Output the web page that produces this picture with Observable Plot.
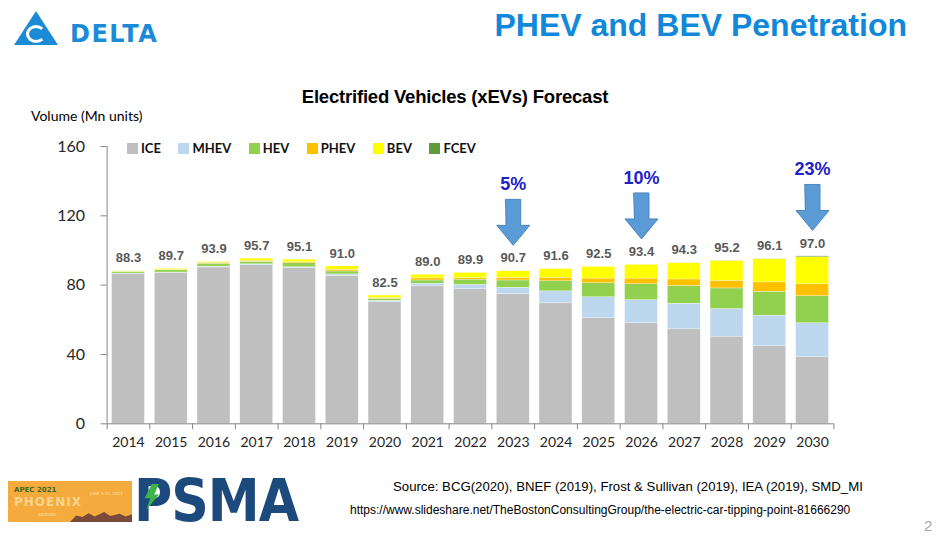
<!DOCTYPE html>
<html>
<head>
<meta charset="utf-8">
<script src="https://cdn.jsdelivr.net/npm/d3@7"></script>
<script src="https://cdn.jsdelivr.net/npm/@observablehq/plot@0.6"></script>
<style>
  html, body { margin: 0; padding: 0; background: #fff; }
  #page { position: relative; width: 950px; height: 536px; overflow: hidden; font-family: "Liberation Sans", Arial, sans-serif; }
  .abs { position: absolute; white-space: nowrap; }
  #chart { position: absolute; left: 0; top: 130px; }
  #legend { position: absolute; left: 127px; top: 140px; display: flex; gap: 17.5px; align-items: center; font-family: Lato, sans-serif; font-weight: bold; font-size: 13px; color: #111; }
  #legend .item { display: flex; align-items: center; }
  #legend .sw { width: 11px; height: 11px; margin-right: 3px; }
</style>
</head>
<body>
<div id="page">
  <!-- Delta logo -->
  <div class="abs" style="left:14px;top:11px;width:0;height:0;border-left:22px solid transparent;border-right:22px solid transparent;border-bottom:34px solid #1b8bd6;"></div>
  <div class="abs" style="left:26px;top:25px;width:14px;height:12px;border:3px solid #fff;border-right-color:transparent;border-radius:50%;"></div>
  <div class="abs" style="left:70px;top:20px;font-family:'DejaVu Sans';font-weight:bold;font-size:24px;color:#1b8bd6;letter-spacing:1.5px;">DELTA</div>

  <div class="abs" style="right:43px;top:7px;font-family:'Liberation Sans';font-weight:bold;font-size:32px;color:#1188d9;">PHEV and BEV Penetration</div>

  <div class="abs" style="left:0;width:910px;text-align:center;top:86px;font-family:'Liberation Sans';font-weight:bold;font-size:18.5px;color:#000;letter-spacing:-0.2px;">Electrified Vehicles (xEVs) Forecast</div>
  <div class="abs" style="left:31px;top:107px;font-family:Lato;font-size:14px;color:#000;">Volume (Mn units)</div>

  <div id="chart"></div>
  <div id="legend"></div>

  <!-- APEC logo -->
  <div class="abs" style="left:8px;top:481px;width:124px;height:41px;background:#f4aa3c;overflow:hidden;">
    <div class="abs" style="left:6px;top:5px;font-family:'DejaVu Sans';font-weight:bold;font-size:7px;color:#3d6b2a;">APEC 2021</div>
    <div class="abs" style="left:6px;top:14px;font-family:'DejaVu Sans';font-weight:bold;font-size:12px;color:#f9d48c;letter-spacing:1px;">PHOENIX</div>
    <div class="abs" style="left:30px;top:31px;font-family:'DejaVu Sans';font-size:4px;color:#fbe0a8;">ARIZONA</div>
    <div class="abs" style="left:82px;top:10px;font-family:'DejaVu Sans';font-size:4px;color:#fbe0a8;">JUNE 9-12, 2021</div>
    <div class="abs" style="left:62px;top:30px;width:62px;height:11px;background:#7a4a3a;clip-path:polygon(0 100%,10% 40%,20% 55%,30% 20%,40% 50%,55% 10%,65% 45%,80% 25%,90% 50%,100% 30%,100% 100%);"></div>
  </div>
  <!-- PSMA logo -->
  <div class="abs" style="left:134px;top:471px;font-family:'DejaVu Sans Condensed','DejaVu Sans';font-weight:bold;font-size:58px;line-height:60px;color:#1c4a7c;letter-spacing:-1px;">PSMA</div>
  <div class="abs" style="left:143px;top:484px;width:16px;height:26px;background:#3cb44b;clip-path:polygon(55% 0,100% 0,70% 40%,100% 40%,20% 100%,45% 55%,10% 55%);"></div>

  <div class="abs" style="left:393px;top:479px;font-family:'Liberation Sans';font-size:13.2px;color:#000;">Source: BCG(2020), BNEF (2019), Frost &amp; Sullivan (2019), IEA (2019), SMD_MI</div>
  <div class="abs" style="left:350px;top:503px;font-family:'Liberation Sans';font-size:12px;color:#000;">https://www.slideshare.net/TheBostonConsultingGroup/the-electric-car-tipping-point-81666290</div>
  <div class="abs" style="left:924px;top:517px;font-family:'Liberation Sans';font-size:15px;color:#a6a6a6;">2</div>
</div>
<script>
// ---- data ----
const years = [2014, 2015, 2016, 2017, 2018, 2019, 2020, 2021, 2022, 2023, 2024, 2025, 2026, 2027, 2028, 2029, 2030];
const seriesNames = ["ICE", "MHEV", "HEV", "PHEV", "BEV", "FCEV"];
const seriesColors = ["#bfbfbf", "#bdd7ee", "#92d050", "#ffc000", "#ffff00", "#5e9b3d"];
const ICE  = [86.6, 87.2, 90.2, 91.6, 89.9, 85.4, 70.1, 79.3, 77.6, 74.9, 69.5, 60.9, 58.0, 54.5, 50.3, 44.7, 38.4];
const MHEV = [0.1, 0.1, 0.5, 0.4, 0.4, 0.8, 0.8, 1.5, 2.5, 3.6, 6.9, 12.1, 13.3, 14.8, 15.9, 17.7, 19.6];
const HEV  = [1.0, 1.3, 1.7, 1.5, 2.3, 1.7, 1.2, 1.9, 3.1, 4.2, 5.8, 8.1, 9.2, 10.2, 11.9, 13.8, 15.6];
const PHEV = [0.1, 0.2, 0.5, 0.6, 0.6, 1.0, 0.6, 1.2, 0.8, 1.5, 2.1, 2.7, 3.3, 3.8, 4.4, 5.4, 6.9];
const BEV  = [0.2, 0.6, 0.5, 1.2, 1.5, 1.9, 1.3, 2.1, 3.1, 3.8, 5.0, 6.7, 7.9, 9.4, 11.5, 13.3, 15.6];
const FCEV = [0, 0, 0, 0, 0, 0, 0, 0, 0, 0, 0, 0, 0, 0.05, 0.1, 0.2, 0.5];
const totalLabels = ["88.3", "89.7", "93.9", "95.7", "95.1", "91.0", "82.5", "89.0", "89.9", "90.7", "91.6", "92.5", "93.4", "94.3", "95.2", "96.1", "97.0"];
const yTicks = [0, 40, 80, 120, 160];
const arrowYears = [2023, 2026, 2030];
const arrowLabels = ["5%", "10%", "23%"];

// ---- build tables ----
const seriesValues = [ICE, MHEV, HEV, PHEV, BEV, FCEV];
const barHalf = 0.385;
const rows = [];
const totals = [];
years.forEach((yr, i) => {
  let cum = 0;
  seriesNames.forEach((s, k) => {
    const v = seriesValues[k][i];
    if (v > 0) rows.push({year: yr, series: s, y1: cum, y2: cum + v});
    cum += v;
  });
  totals.push({year: yr, total: cum, label: totalLabels[i]});
});

const arrowPts = [];
const arrowText = [];
arrowYears.forEach((yr, j) => {
  const t = totals[years.indexOf(yr)].total;
  const tip = t + 15, head = tip + 11.5, top = head + 15;
  const hw = 0.386, sw = 0.175;
  [[yr - sw, top], [yr + sw, top], [yr + sw, head], [yr + hw, head], [yr, tip], [yr - hw, head], [yr - sw, head]]
    .forEach(([x, y]) => arrowPts.push({id: j, x, y}));
  arrowText.push({year: yr, y: top + 8.5, label: arrowLabels[j]});
});
const boundaries = [...years.map(y => y - 0.5), years[years.length - 1] + 0.5];

const chart = Plot.plot({
  width: 950,
  height: 330,
  marginTop: 16,
  marginBottom: 36.7,
  marginLeft: 106.6,
  marginRight: 116.6,
  style: {background: "transparent", fontFamily: "Lato, sans-serif", overflow: "visible", color: "#262626"},
  x: {domain: [years[0] - 0.5, years[years.length - 1] + 0.5]},
  y: {domain: [0, 160]},
  color: {domain: seriesNames, range: seriesColors},
  marks: [
    Plot.rect(rows, {x1: d => d.year - barHalf, x2: d => d.year + barHalf, y1: "y1", y2: "y2", fill: "series", stroke: "#ffffff", strokeWidth: 0.4, strokeOpacity: 0.8}),
    Plot.ruleX([years[0] - 0.5], {stroke: "#868686", strokeWidth: 1}),
    Plot.ruleY([0], {stroke: "#868686", strokeWidth: 1}),
    Plot.axisY({ticks: yTicks, tickSize: 6, tickPadding: 16, fontSize: 16, stroke: "#868686", fill: "#262626", label: null}),
    Plot.axisX({ticks: boundaries, tickSize: 6, tickFormat: () => "", stroke: "#868686", label: null}),
    Plot.axisX({ticks: years, tickSize: 0, tickPadding: 13, tickFormat: d => String(d), fontSize: 14, fill: "#262626", label: null}),
    Plot.text(totals, {x: "year", y: "total", text: "label", dy: -13, fill: "#595959", fontWeight: "bold", fontSize: 13, fontFamily: "Liberation Sans"}),
    Plot.line(arrowPts, {x: "x", y: "y", z: "id", curve: "linear-closed", fill: "#5b9bd5", stroke: "#4a87c0", strokeWidth: 1}),
    Plot.text(arrowText, {x: "year", y: "y", text: "label", fill: "#2222c8", fontWeight: "bold", fontSize: 18, fontFamily: "Liberation Sans"})
  ]
});
document.getElementById("chart").appendChild(chart);

const legend = document.getElementById("legend");
seriesNames.forEach((s, k) => {
  const item = document.createElement("div");
  item.className = "item";
  const sw = document.createElement("div");
  sw.className = "sw";
  sw.style.background = seriesColors[k];
  const tx = document.createElement("span");
  tx.textContent = s;
  item.appendChild(sw);
  item.appendChild(tx);
  legend.appendChild(item);
});
</script>
</body>
</html>
